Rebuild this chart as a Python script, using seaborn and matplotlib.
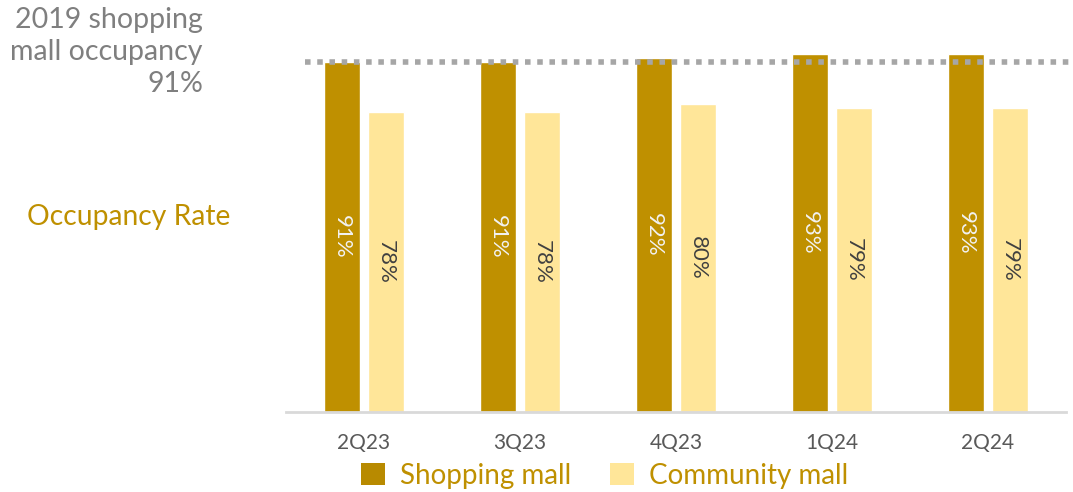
import matplotlib
matplotlib.use("Agg")
import matplotlib.pyplot as plt
from matplotlib.patches import Patch
import seaborn as sns
import pandas as pd

quarters = ["2Q23", "3Q23", "4Q23", "1Q24", "2Q24"]
shopping_mall = [91, 91, 92, 93, 93]
community_mall = [78, 78, 80, 79, 79]
series_names = ["Shopping mall", "Community mall"]
benchmark_2019 = 91

df = pd.DataFrame({
    "quarter": quarters * 2,
    "value": shopping_mall + community_mall,
    "type": [series_names[0]] * len(quarters) + [series_names[1]] * len(quarters),
})

sns.set_style("white")
plt.rcParams["font.family"] = ["Lato", "DejaVu Sans"]

W, H = 1073, 492
fig = plt.figure(figsize=(W / 100, H / 100), dpi=100)
ax = fig.add_axes([286 / W, 80 / H, 780 / W, 384.6 / H])

gold = "#BF9000"
light = "#FFE699"
sns.barplot(data=df, x="quarter", y="value", hue="type", palette=[gold, light],
            width=0.564, gap=0.2, ax=ax, legend=False, saturation=1)
ax.set_ylim(0, 100)
ax.set_xlim(-0.5, 4.5)

label_colors = ["#F2F2F2", "#404040"]
for cont, col in zip(ax.containers, label_colors):
    ax.bar_label(cont, labels=[f"{int(v)}%" for v in cont.datavalues],
                 label_type="center", rotation=270, color=col, fontsize=16)

ax.axhline(benchmark_2019, xmin=(305 - 286) / 780, xmax=(1073 - 286) / 780,
           color="#A6A6A6", linewidth=4, linestyle=(0, (1, 1.2)), clip_on=False, zorder=5)

for s in ["top", "left", "right"]:
    ax.spines[s].set_visible(False)
ax.spines["bottom"].set_color("#D9D9D9")
ax.spines["bottom"].set_linewidth(2)
ax.set_yticks([])
ax.set_xlabel("")
ax.set_ylabel("")
ax.tick_params(axis="x", length=0, pad=15, labelsize=15, labelcolor="#595959")

fig.text(203 / W, 1 - 52 / H, "2019 shopping\nmall occupancy\n91%", ha="right", va="center",
         fontsize=20.5, color="#7F7F7F", linespacing=1.3)
fig.text(27 / W, 1 - 217 / H, "Occupancy Rate", ha="left", va="center",
         fontsize=20.3, color=gold)

handles = [Patch(facecolor="#B88A00", edgecolor="none"), Patch(facecolor=light, edgecolor="none")]
leg = fig.legend(handles, series_names, loc="center", bbox_to_anchor=(605 / W, 1 - 476 / H),
                 ncol=2, frameon=False, fontsize=20, handlelength=0.85, handleheight=0.85,
                 handletextpad=0.55, columnspacing=1.4, labelcolor=gold)

fig.savefig("out.png", dpi=100)
